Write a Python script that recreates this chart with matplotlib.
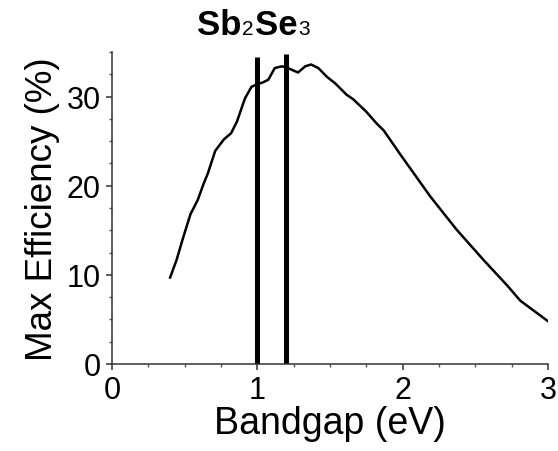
import matplotlib
matplotlib.use("Agg")
import matplotlib.pyplot as plt
from matplotlib.ticker import MultipleLocator

plt.rcParams['font.family'] = ['Liberation Sans', 'DejaVu Sans']

# Courbe d'efficacité max en fonction du bandgap
bandgap = [0.40, 0.445, 0.49, 0.54, 0.59, 0.63, 0.66, 0.71, 0.77, 0.82, 0.86,
           0.915, 0.96, 1.0, 1.04, 1.076, 1.12, 1.17, 1.225, 1.28, 1.33, 1.37,
           1.42, 1.48, 1.535, 1.615, 1.66, 1.75, 1.82, 1.87, 1.98, 2.19, 2.37,
           2.555, 2.72, 2.81, 3.0]
efficiency = [9.7, 11.7, 14.2, 16.8, 18.4, 20.2, 21.4, 23.9, 25.2, 25.9, 27.2,
              29.8, 31.1, 31.4, 31.6, 31.9, 33.2, 33.4, 33.1, 32.7, 33.4, 33.6,
              33.2, 32.2, 31.5, 30.2, 29.7, 28.3, 27.0, 26.2, 23.6, 18.8, 15.1,
              11.7, 8.8, 7.1, 4.8]

# Bandgap de Sb2Se3 (lignes verticales)
sb2se3_gaps = [1.0, 1.2]
sb2se3_tops = [34.4, 34.8]

fig = plt.figure(figsize=(5.58, 4.52), dpi=100)
ax = fig.add_axes([0.2007, 0.1925, 0.7813, 0.6902])

ax.plot(bandgap, efficiency, color='black', lw=1.8)
for g, top in zip(sb2se3_gaps, sb2se3_tops):
    ax.plot([g, g], [0, top], color='black', lw=3.6, solid_capstyle='butt')

ax.set_xlim(0, 3)
ax.set_ylim(0, 35)
ax.xaxis.set_major_locator(MultipleLocator(1))
ax.xaxis.set_minor_locator(MultipleLocator(0.25))
ax.yaxis.set_major_locator(MultipleLocator(10))
ax.yaxis.set_minor_locator(MultipleLocator(2.5))

for s in ['top', 'right']:
    ax.spines[s].set_visible(False)
for s in ['left', 'bottom']:
    ax.spines[s].set_linewidth(1.1)
    ax.spines[s].set_color('#333333')

ax.tick_params(which='major', length=4, width=1.1, color='#333333',
               labelsize=22, pad=4)
ax.tick_params(which='minor', length=2.5, width=1.0, color='#555555')

ax.set_xlabel("Bandgap (eV)", fontsize=27, labelpad=0)
ax.set_ylabel("Max Efficiency (%)", fontsize=26.5, labelpad=5)

# Titre Sb2Se3 : morceaux en gras + petits indices sur la ligne de base
pieces = [("Sb", 25, 'bold'), ("2", 15, 'normal'), ("Se", 25, 'bold'), ("3", 15, 'normal')]
renderer = fig.canvas.get_renderer()
x = 197 / 558
y = 1 - 35 / 452
for txt, fs, fw in pieces:
    t = fig.text(x, y, txt, fontsize=fs, fontweight=fw, ha='left', va='baseline')
    bb = t.get_window_extent(renderer=renderer)
    x = (bb.x1 + 1) / fig.bbox.width

fig.savefig("out.png", dpi=100)
